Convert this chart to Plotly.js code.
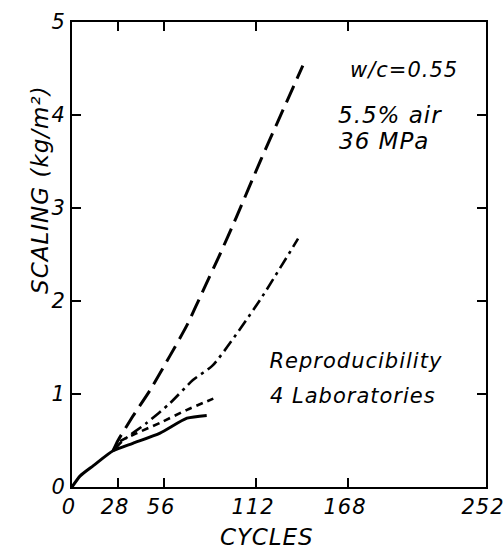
<!DOCTYPE html>
<html>
<head>
<meta charset="utf-8">
<script src="https://cdn.plot.ly/plotly-3.0.1.min.js"></script>
<style>
html,body{margin:0;padding:0;background:#fff;}
#wrap{position:relative;width:504px;height:552px;}
#chart{position:absolute;left:0;top:0;width:504px;height:552px;}
#frame{position:absolute;left:0;top:0;width:504px;height:552px;pointer-events:none;}
#chart .annotation-text{letter-spacing:1px;}
#chart .xtick text,#chart .ytick text{letter-spacing:1px;}
</style>
</head>
<body>
<div id="wrap"><div id="chart"></div><div id="frame"></div></div>
<script>
// Laboratory curves: cycles vs scaling (kg/m^2)
const labSolidX = [0, 5, 13, 25, 37, 53.6, 70, 82];
const labSolidY = [0, 0.12, 0.23, 0.39, 0.47, 0.58, 0.74, 0.77];

const labShortDashX = [25, 29.2, 39.6, 53.6, 70, 86];
const labShortDashY = [0.39, 0.49, 0.58, 0.69, 0.83, 0.95];

const labDashDotX = [25, 31, 45.6, 59.6, 73.6, 85.8, 114.4, 137.6];
const labDashDotY = [0.39, 0.5, 0.69, 0.9, 1.15, 1.31, 2.01, 2.67];

const labLongDashX = [25, 28, 37, 47.5, 59.6, 70, 80, 90, 100, 115, 140.5];
const labLongDashY = [0.39, 0.5, 0.76, 1.04, 1.41, 1.74, 2.12, 2.5, 2.9, 3.52, 4.53];

const xTicks = [0, 28, 56, 112, 168, 252];
const yTicks = [0, 1, 2, 3, 4, 5];

const FONT = 'DejaVu Sans, sans-serif';
const it = s => '<i>' + s + '</i>';
const MARGIN = {l: 72, r: 18, t: 22, b: 65};

function line(x, y, dash, width) {
  return {x: x, y: y, type: 'scatter', mode: 'lines',
          line: {color: '#000', width: width, dash: dash, shape: 'spline', smoothing: 0.6},
          hoverinfo: 'skip', showlegend: false};
}

const data = [
  line(labSolidX, labSolidY, 'solid', 3),
  line(labShortDashX, labShortDashY, '7px,5px', 2.6),
  line(labDashDotX, labDashDotY, '12px,5px,3px,5px', 2.6),
  line(labLongDashX, labLongDashY, '18px,8px', 3)
];

const ann = (text, x, y, size) => ({
  text: it(text), x: x, y: y, xref: 'x', yref: 'y', showarrow: false,
  xanchor: 'left', yanchor: 'middle',
  font: {family: FONT, size: size, color: '#000'}
});

const tickFont = {family: FONT, size: 21, color: '#000'};

const layout = {
  width: 504, height: 552, margin: MARGIN,
  paper_bgcolor: '#fff', plot_bgcolor: '#fff',
  showlegend: false,
  xaxis: {
    range: [0, 252], tickvals: xTicks, ticktext: xTicks.map(v => it(String(v))),
    ticks: 'inside', ticklen: 9, tickwidth: 1.5, tickcolor: '#000',
    showline: true, linecolor: '#000', linewidth: 2, mirror: 'allticks',
    showgrid: false, zeroline: false,
    ticklabeloverflow: 'allow', ticklabelshift: -3,
    tickfont: tickFont
  },
  yaxis: {
    range: [0, 5], tickvals: yTicks, ticktext: yTicks.map(v => it(String(v))),
    ticks: 'inside', ticklen: 9, tickwidth: 1.5, tickcolor: '#000',
    showline: true, linecolor: '#000', linewidth: 2, mirror: 'allticks',
    showgrid: false, zeroline: false,
    ticklabeloverflow: 'allow',
    tickfont: tickFont
  },
  annotations: [
    ann('w/c=0.55', 170.4, 4.48, 21),
    ann('5.5% air', 163.1, 4.0, 23),
    ann('36 MPa', 163.1, 3.72, 23),
    ann('Reproducibility', 123.6, 1.355, 21),
    ann('4 Laboratories', 123.6, 0.98, 21),
    {text: it('CYCLES'), x: 118.7, y: -0.1075, xref: 'x', yref: 'paper', showarrow: false,
     xanchor: 'center', yanchor: 'middle',
     font: {family: FONT, size: 23, color: '#000'}},
    {text: it('SCALING (kg/m²)'), x: -0.0773, y: 0.64, xref: 'paper', yref: 'paper',
     showarrow: false, textangle: -90, xanchor: 'center', yanchor: 'middle',
     font: {family: FONT, size: 23, color: '#000'}}
  ]
};

Plotly.newPlot('chart', data, layout, {displayModeBar: false});

// Transparent overlay with the same axes: draws the full box frame with mirrored inside ticks
const frameAxis = (rng, tv) => ({
  range: rng, tickvals: tv, ticks: 'inside', ticklen: 9, tickwidth: 1.5, tickcolor: '#000',
  showline: true, linecolor: '#000', linewidth: 2, mirror: 'allticks',
  showgrid: false, zeroline: false, showticklabels: false
});
Plotly.newPlot('frame', [], {
  width: 504, height: 552, margin: MARGIN,
  paper_bgcolor: 'rgba(0,0,0,0)', plot_bgcolor: 'rgba(0,0,0,0)',
  showlegend: false,
  xaxis: frameAxis([0, 252], xTicks),
  yaxis: frameAxis([0, 5], yTicks)
}, {displayModeBar: false, staticPlot: true});
</script>
</body>
</html>
